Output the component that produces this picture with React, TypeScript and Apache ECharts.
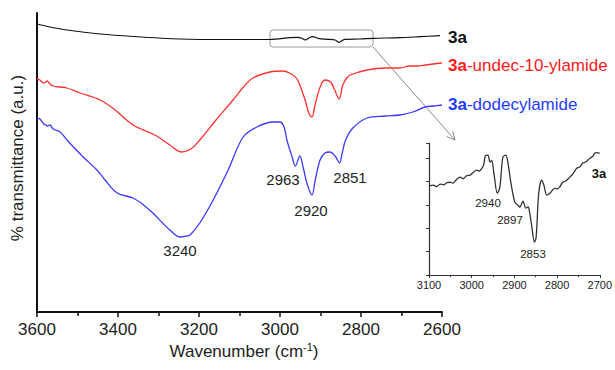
import React, { useEffect, useRef } from "react";
import * as echarts from "echarts";

// Main spectra: [wavenumber (cm-1), transmittance (a.u.)]
const black3a: [number, number][] = [
  [3600, 288], [3568, 285], [3526, 282], [3444, 278], [3363, 275.5], [3247, 273],
  [3124, 272.5], [3025, 272.5], [2975, 274.3], [2956, 274.7], [2946, 273.7], [2938, 272],
  [2926, 274.7], [2919, 275.3], [2906, 273.7], [2884, 272.7], [2864, 272], [2854, 269.7],
  [2847, 271.3], [2840, 272.7], [2803, 273], [2770, 273.7], [2704, 274.3], [2654, 275.3],
  [2605, 276.3],
];

const redUndec: [number, number][] = [
  [3600, 233], [3593, 232], [3583, 229], [3578, 230], [3575, 231], [3568, 228], [3560, 226],
  [3543, 225], [3526, 224], [3494, 219], [3444, 212], [3407, 202], [3363, 187], [3309, 177],
  [3272, 167], [3244, 160], [3220, 163], [3198, 172], [3158, 192], [3116, 212], [3090, 225],
  [3067, 234], [3025, 240], [2993, 241], [2968, 237], [2958, 233], [2951, 227], [2938, 212],
  [2928, 198], [2921, 195], [2914, 206], [2901, 225], [2889, 232], [2875, 230], [2865, 222],
  [2854, 213], [2845, 227], [2835, 234], [2827, 237], [2785, 242], [2740, 244], [2704, 244],
  [2680, 246], [2662, 246], [2640, 247], [2622, 248], [2600, 249],
];

const blueDodec: [number, number][] = [
  [3600, 194], [3593, 193], [3583, 188], [3578, 187], [3575, 186], [3568, 187], [3560, 183],
  [3543, 180], [3526, 172], [3486, 155], [3452, 142], [3432, 132], [3402, 119], [3363, 114],
  [3340, 108], [3314, 99], [3272, 82], [3247, 75], [3230, 76], [3222, 77], [3198, 89],
  [3165, 112], [3128, 142], [3091, 175], [3057, 185], [3017, 190], [3000, 190], [2990, 185],
  [2983, 172], [2970, 155], [2962, 146], [2951, 156], [2943, 145], [2933, 128], [2921, 117],
  [2913, 132], [2901, 152], [2889, 159], [2877, 160], [2864, 156], [2853, 149], [2847, 158],
  [2838, 172], [2820, 184], [2785, 194], [2740, 196], [2704, 197], [2672, 200], [2642, 205],
  [2620, 206], [2600, 207],
];

// Inset (zoom of 3a, 3100-2700 cm-1)
const inset3a: [number, number][] = [
  [3100, 3.8], [3090, 3.85], [3082, 3.78], [3074, 3.89], [3066, 3.86], [3058, 3.95],
  [3051, 3.97], [3044, 3.93], [3036, 4.08], [3027, 4.19], [3020, 4.12], [3012, 4.25],
  [3004, 4.27], [2996, 4.4], [2988, 4.49], [2982, 4.45], [2976, 4.57], [2972, 4.7],
  [2968, 5.1], [2962, 5.13], [2957, 4.83], [2953, 4.91], [2948, 4.36], [2940, 3.5],
  [2934, 3.76], [2927, 5.04], [2920, 5.13], [2915, 4.79], [2908, 3.93], [2899, 3.12],
  [2892, 2.99], [2887, 2.91], [2880, 3.16], [2873, 2.86], [2868, 2.91], [2864, 2.65],
  [2859, 2.05], [2853, 1.41], [2849, 1.62], [2843, 3.5], [2836, 4.06], [2831, 3.85],
  [2824, 3.42], [2817, 3.5], [2810, 3.65], [2805, 3.72], [2800, 3.68], [2794, 3.76],
  [2787, 3.97], [2780, 4.02], [2770, 4.19], [2762, 4.35], [2754, 4.57], [2747, 4.62],
  [2740, 4.79], [2732, 4.85], [2723, 5.0], [2716, 5.08], [2712, 5.21], [2707, 5.24],
  [2700, 5.21],
];

const mainPeakLabels = ["3240", "2963", "2920", "2851"];
const insetPeakLabels = ["2940", "2897", "2853"];
const seriesNames = ["3a", "3a-undec-10-ylamide", "3a-dodecylamide"];

const FONT = "'Liberation Sans', Arial, sans-serif";

export default function App() {
  const ref = useRef<HTMLDivElement>(null);

  useEffect(() => {
    if (!ref.current) return;
    const chart = echarts.init(ref.current, null, { renderer: "svg" });

    const txt = (text: string, x: number, y: number, size: number, extra: any = {}) => ({
      type: "text",
      x,
      y,
      silent: true,
      style: {
        text,
        fontSize: size,
        fontFamily: FONT,
        fill: "#222",
        align: "center",
        verticalAlign: "middle",
        textAlign: "center",
        textVerticalAlign: "middle",
        ...extra,
      },
    });

    const legendText = (label: string, color: string, y: number) => {
      const rest = label.slice(2);
      return {
        type: "text",
        x: 448,
        y,
        silent: true,
        style: {
          text: rest ? `{b|3a}{n|${rest}}` : "{b|3a}",
          align: "left",
          verticalAlign: "middle",
          textAlign: "left",
          textVerticalAlign: "middle",
          rich: {
            b: { fontSize: 17, fontWeight: "bold", fontFamily: FONT, fill: color, color },
            n: { fontSize: 17, fontFamily: FONT, fill: color, color },
          },
        },
      };
    };

    const plain = (v: number) => String(v);

    chart.setOption({
      animation: false,
      grid: [
        { left: 37, top: 13, width: 405, height: 299 },
        { left: 429, top: 143, width: 171, height: 132 },
      ],
      xAxis: [
        {
          gridIndex: 0,
          type: "value",
          min: 2600,
          max: 3600,
          interval: 200,
          inverse: true,
          axisLine: { show: true, lineStyle: { color: "#111", width: 2 } },
          axisTick: { show: true, inside: false, length: 5, lineStyle: { color: "#111", width: 1.5 } },
          minorTick: { show: true, splitNumber: 2, length: 4, lineStyle: { color: "#111", width: 1.5 } },
          axisLabel: { fontSize: 17, color: "#222", fontFamily: FONT, margin: 9, formatter: plain },
          splitLine: { show: false },
        },
        {
          gridIndex: 1,
          type: "value",
          min: 2700,
          max: 3100,
          interval: 100,
          inverse: true,
          axisLine: { show: true, lineStyle: { color: "#333", width: 1.2 } },
          axisTick: { show: true, inside: false, length: 3, lineStyle: { color: "#333", width: 1 } },
          minorTick: { show: true, splitNumber: 2, length: 2, lineStyle: { color: "#333", width: 1 } },
          axisLabel: { fontSize: 11, color: "#222", fontFamily: FONT, margin: 4, formatter: plain },
          splitLine: { show: false },
        },
      ],
      yAxis: [
        {
          gridIndex: 0,
          type: "value",
          min: 0,
          max: 299,
          axisLine: { show: true, lineStyle: { color: "#111", width: 2 } },
          axisTick: { show: false },
          axisLabel: { show: false },
          splitLine: { show: false },
        },
        {
          gridIndex: 1,
          type: "value",
          min: 0,
          max: 5.65,
          interval: 1,
          axisLine: { show: true, lineStyle: { color: "#333", width: 1.2 } },
          axisTick: { show: true, inside: false, length: 3, lineStyle: { color: "#333", width: 1 } },
          axisLabel: { show: false },
          splitLine: { show: false },
        },
      ],
      series: [
        {
          name: seriesNames[0],
          type: "line",
          xAxisIndex: 0,
          yAxisIndex: 0,
          data: black3a,
          showSymbol: false,
          smooth: 0.3,
          lineStyle: { color: "#111", width: 1.2 },
        },
        {
          name: seriesNames[1],
          type: "line",
          xAxisIndex: 0,
          yAxisIndex: 0,
          data: redUndec,
          showSymbol: false,
          smooth: 0.35,
          lineStyle: { color: "#ff3030", width: 1.3 },
        },
        {
          name: seriesNames[2],
          type: "line",
          xAxisIndex: 0,
          yAxisIndex: 0,
          data: blueDodec,
          showSymbol: false,
          smooth: 0.35,
          lineStyle: { color: "#3a3aff", width: 1.3 },
        },
        {
          name: "inset",
          type: "line",
          xAxisIndex: 1,
          yAxisIndex: 1,
          data: inset3a,
          showSymbol: false,
          smooth: 0.3,
          lineStyle: { color: "#333", width: 1.3 },
        },
      ],
      graphic: [
        {
          type: "rect",
          silent: true,
          shape: { x: 270, y: 30, width: 103, height: 17, r: 3 },
          style: { fill: "none", stroke: "#999", lineWidth: 1 },
        },
        {
          type: "line",
          silent: true,
          shape: { x1: 373, y1: 47, x2: 455, y2: 140 },
          style: { stroke: "#888", lineWidth: 1 },
        },
        {
          type: "polyline",
          silent: true,
          shape: { points: [[446.7, 136.6], [455, 140], [452.7, 131.4]] },
          style: { stroke: "#888", lineWidth: 1, fill: "none" },
        },
        legendText(seriesNames[0], "#111", 37),
        legendText(seriesNames[1], "#ff1a1a", 65),
        legendText(seriesNames[2], "#1f3cff", 104),
        txt(mainPeakLabels[0], 180, 250, 15),
        txt(mainPeakLabels[1], 283, 179, 15),
        txt(mainPeakLabels[2], 311, 210, 15),
        txt(mainPeakLabels[3], 350, 177, 15),
        txt(insetPeakLabels[0], 488, 203, 11.5),
        txt(insetPeakLabels[1], 510, 220, 11.5),
        txt(insetPeakLabels[2], 533, 254, 11.5),
        txt("3a", 599, 173, 13, { fontWeight: "bold", fill: "#111" }),
        {
          type: "text",
          x: 17,
          y: 158,
          rotation: Math.PI / 2,
          silent: true,
          style: {
            text: "% transmittance (a.u.)",
            fontSize: 17,
            fontFamily: FONT,
            fill: "#222",
            align: "center",
            verticalAlign: "middle",
            textAlign: "center",
            textVerticalAlign: "middle",
          },
        },
        {
          type: "text",
          x: 244,
          y: 351,
          silent: true,
          style: {
            text: "{n|Wavenumber (cm}{s|-1}{n|)}",
            align: "center",
            verticalAlign: "middle",
            textAlign: "center",
            textVerticalAlign: "middle",
            rich: {
              n: { fontSize: 17, fontFamily: FONT, fill: "#222", color: "#222", lineHeight: 20 },
              s: { fontSize: 11, fontFamily: FONT, fill: "#222", color: "#222", lineHeight: 11, verticalAlign: "top" },
            },
          },
        },
      ],
    });

    return () => chart.dispose();
  }, []);

  return (
    <div
      ref={ref}
      style={{ position: "fixed", left: 0, top: 0, width: 615, height: 370, background: "#fff" }}
    />
  );
}
